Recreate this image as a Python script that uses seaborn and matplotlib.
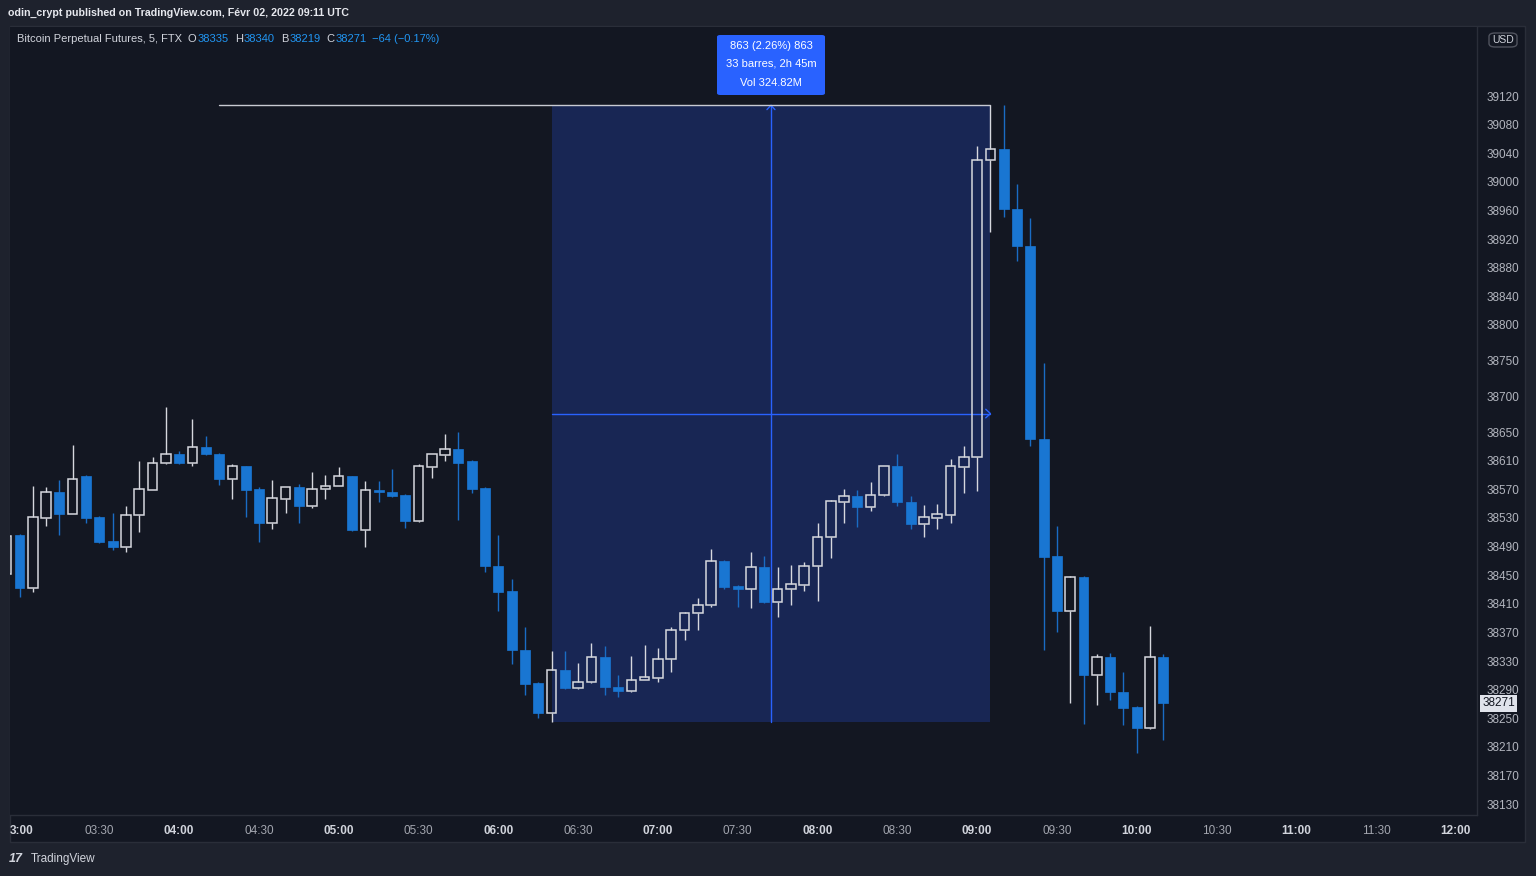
import numpy as np
import pandas as pd
import matplotlib
matplotlib.use("Agg")
import matplotlib.pyplot as plt
from matplotlib.patches import Rectangle, FancyBboxPatch
import seaborn as sns

# ---------------- data ----------------
first_bar = "2022-02-02 02:55"
opens = [38452, 38506, 38432, 38530, 38566, 38535, 38588, 38531, 38498, 38490,
         38534, 38569, 38607, 38619, 38607, 38629, 38620, 38584, 38602, 38570,
         38523, 38557, 38573, 38547, 38570, 38575, 38588, 38513, 38569, 38566,
         38562, 38526, 38601, 38618, 38626, 38610, 38572, 38463, 38428, 38346,
         38299, 38258, 38317, 38292, 38300, 38335, 38294, 38288, 38304, 38306,
         38333, 38373, 38397, 38408, 38470, 38435, 38430, 38461, 38412, 38430,
         38436, 38463, 38504, 38553, 38561, 38546, 38562, 38602, 38553, 38522,
         38530, 38534, 38601, 38615, 39031, 39046, 38962, 38910, 38641, 38477,
         38400, 38448, 38310, 38335, 38287, 38266, 38236, 38335]
highs = [38505, 38507, 38575, 38573, 38583, 38632, 38590, 38533, 38537, 38547,
         38610, 38615, 38685, 38624, 38668, 38644, 38621, 38605, 38603, 38573,
         38583, 38574, 38577, 38594, 38590, 38601, 38589, 38582, 38582, 38598,
         38563, 38605, 38620, 38647, 38650, 38611, 38573, 38506, 38445, 38378,
         38300, 38344, 38344, 38327, 38355, 38351, 38310, 38337, 38353, 38348,
         38377, 38398, 38418, 38486, 38471, 38436, 38482, 38477, 38461, 38464,
         38469, 38523, 38555, 38571, 38569, 38581, 38603, 38619, 38561, 38548,
         38550, 38613, 38631, 39050, 39107, 39107, 38997, 38950, 38746, 38519,
         38449, 38449, 38340, 38341, 38314, 38267, 38379, 38340]
lows = [38452, 38420, 38427, 38519, 38506, 38535, 38523, 38495, 38485, 38482,
        38510, 38569, 38606, 38606, 38603, 38618, 38576, 38557, 38531, 38497,
        38514, 38537, 38523, 38544, 38556, 38575, 38512, 38490, 38552, 38560,
        38516, 38525, 38586, 38610, 38527, 38565, 38455, 38400, 38326, 38283,
        38250, 38245, 38291, 38291, 38299, 38282, 38280, 38287, 38303, 38301,
        38314, 38360, 38374, 38405, 38430, 38405, 38404, 38411, 38392, 38409,
        38428, 38414, 38474, 38523, 38518, 38540, 38561, 38547, 38514, 38504,
        38514, 38523, 38565, 38568, 38930, 38951, 38890, 38631, 38345, 38370,
        38272, 38242, 38268, 38275, 38240, 38202, 38235, 38219]
closes = [38505, 38432, 38531, 38566, 38535, 38585, 38530, 38497, 38490, 38534,
          38570, 38607, 38619, 38607, 38629, 38619, 38584, 38602, 38569, 38523,
          38558, 38573, 38547, 38571, 38575, 38588, 38513, 38569, 38566, 38561,
          38526, 38602, 38619, 38626, 38607, 38571, 38463, 38427, 38345, 38298,
          38258, 38317, 38292, 38300, 38335, 38293, 38288, 38304, 38307, 38333,
          38374, 38397, 38408, 38470, 38434, 38430, 38461, 38412, 38430, 38437,
          38463, 38504, 38554, 38561, 38546, 38562, 38602, 38552, 38522, 38531,
          38535, 38602, 38615, 39031, 39046, 38962, 38910, 38641, 38476, 38400,
          38448, 38310, 38335, 38286, 38265, 38236, 38335, 38271]

time_ticks = ["03:00", "03:30", "04:00", "04:30", "05:00", "05:30", "06:00",
              "06:30", "07:00", "07:30", "08:00", "08:30", "09:00", "09:30",
              "10:00", "10:30", "11:00", "11:30", "12:00"]
price_ticks = [38130, 38170, 38210, 38250, 38290, 38330, 38370, 38410, 38450,
               38490, 38530, 38570, 38610, 38650, 38700, 38750, 38800, 38840,
               38880, 38920, 38960, 39000, 39040, 39080, 39120]
measure_start, measure_end = "06:20", "09:05"
hline_start = "04:15"
info_lines = ["863 (2.26%) 863", "33 barres, 2h 45m", "Vol 324.82M"]
last_price = 38271
legend_title = "Bitcoin Perpetual Futures, 5, FTX"
legend_fields = [("O", "38335"), ("H", "38340"), ("B", "38219"), ("C", "38271")]
legend_change = "\u221264 (\u22120.17%)"

# ---------------- colours ----------------
BG = "#131722"
FRAME = "#1e222d"
BORDER = "#2a2e39"
UP = "#d6d8de"
DOWN = "#1976d2"
DOWN_WICK = "#1a6cc4"
ACCENT = "#2962ff"
TXT = "#d1d4dc"
TICK = "#b2b5be"
VAL = "#2196f3"

sns.set_theme(style="dark")
plt.rcParams["font.family"] = ["Liberation Sans", "DejaVu Sans"]

W, H = 1536, 876
fig = plt.figure(figsize=(W / 100, H / 100), dpi=100, facecolor=FRAME)

def fx(px):
    return px / W

def fy(py):
    return 1 - py / H

# pane background
fig.add_artist(Rectangle((fx(10), fy(842)), fx(1525) - fx(10), fy(26) - fy(842),
                         transform=fig.transFigure, facecolor=BG, edgecolor=BORDER,
                         linewidth=1, zorder=0))

ax = fig.add_axes([fx(10), fy(815), fx(1477) - fx(10), fy(27) - fy(815)])
ax.set_facecolor(BG)
ax.grid(False)

df = pd.DataFrame({
    "time": pd.date_range(first_bar, periods=len(opens), freq="5min"),
    "open": opens, "high": highs, "low": lows, "close": closes,
})
t0 = pd.Timestamp("2022-02-02 03:00")
df["x"] = (df["time"] - t0) / pd.Timedelta("5min")
df["up"] = df["close"] >= df["open"]
df["top"] = df[["open", "close"]].max(axis=1)
df["bot"] = df[["open", "close"]].min(axis=1)
df["h"] = (df["top"] - df["bot"]).clip(lower=1.5)

def tx(hhmm):
    return (pd.Timestamp("2022-02-02 " + hhmm) - t0) / pd.Timedelta("5min")

# measurement rectangle
xs, xe = tx(measure_start), tx(measure_end)
sel = df[(df["x"] >= xs) & (df["x"] <= xe)]
lo, hi = sel["low"].min(), sel["high"].max()
ax.add_patch(Rectangle((xs, lo), xe - xs, hi - lo, facecolor="#182654",
                       edgecolor="none", zorder=0.5))
xm, ym = (xs + xe) / 2, (lo + hi) / 2
ax.plot([xm, xm], [lo, hi], color=ACCENT, lw=1, zorder=0.8)
ax.plot([xs, xe], [ym, ym], color=ACCENT, lw=1, zorder=0.8)
ax.plot([xe - 0.35, xe, xe - 0.35], [ym + 6, ym, ym - 6], color=ACCENT, lw=1, zorder=0.8)
ax.plot([xm - 0.3, xm, xm + 0.3], [hi - 6, hi, hi - 6], color=ACCENT, lw=1, zorder=0.8)

# horizontal line at the high
ax.plot([tx(hline_start), xe], [hi, hi], color="#c8cad2", lw=1, zorder=0.9)

# candles
up = df[df["up"]]
dn = df[~df["up"]]
ax.vlines(up["x"], up["top"], up["high"], color=UP, lw=1, zorder=2)
ax.vlines(up["x"], up["low"], up["bot"], color=UP, lw=1, zorder=2)
ax.vlines(dn["x"], dn["low"], dn["high"], color=DOWN_WICK, lw=1, zorder=2)
ax.bar(dn["x"], dn["h"], bottom=dn["bot"], width=0.75, color=DOWN,
       edgecolor=DOWN, linewidth=0.5, zorder=3)
ax.bar(up["x"], up["h"], bottom=up["bot"], width=0.72, facecolor="none",
       edgecolor=UP, linewidth=1.1, zorder=3)

# axes
x_left = (10 - 19.5) / 13.3
x_right = (1477 - 19.5) / 13.3
ax.set_xlim(x_left, x_right)
ax.set_ylim(38114.7, 39216.5)

ax.yaxis.tick_right()
ax.set_yticks(price_ticks)
ax.set_yticklabels([str(p) for p in price_ticks])
ax.tick_params(axis="y", length=0, pad=7, labelsize=8.5, colors=TICK)

xt = [tx(t) for t in time_ticks]
ax.set_xticks(xt)
labels = list(time_ticks)
labels[0] = ""
ax.set_xticklabels(labels)
ax.tick_params(axis="x", length=0, pad=7, labelsize=8.5, colors=TICK)
for lab, t in zip(ax.get_xticklabels(), time_ticks):
    if t.endswith(":00"):
        lab.set_color("#d1d4dc")
        lab.set_fontweight("bold")
    else:
        lab.set_color("#a3a6af")
# first label is clipped by the pane edge in the reference
fig.text(fx(10), fy(830.5), time_ticks[0][1:], ha="left", va="center",
         color="#d1d4dc", fontsize=8.5, fontweight="bold")

for s in ["top", "left"]:
    ax.spines[s].set_visible(False)
for s in ["right", "bottom"]:
    ax.spines[s].set_color(BORDER)
    ax.spines[s].set_linewidth(1)

# last price label
ax.text(1.0035, last_price, str(last_price), transform=ax.get_yaxis_transform(),
        ha="left", va="center", fontsize=8.5, color="#131722", zorder=10,
        bbox=dict(boxstyle="square,pad=0.22", facecolor="#e0e3eb", edgecolor="none"),
        clip_on=False)

# info box of the measurement tool
fig.add_artist(FancyBboxPatch((fx(717), fy(95)), fx(825) - fx(717), fy(35) - fy(95),
                              boxstyle="round,pad=0,rounding_size=0.002",
                              transform=fig.transFigure, facecolor=ACCENT,
                              edgecolor="none", zorder=5))
for line, py in zip(info_lines, [46, 64, 83]):
    fig.text(fx(771), fy(py), line, ha="center", va="center", color="white",
             fontsize=8, zorder=6)

# header
fig.text(fx(8), fy(13), "odin_crypt published on TradingView.com, Févr 02, 2022 09:11 UTC",
         ha="left", va="center", color="#e6e8ee", fontsize=7.7, fontweight="bold")

# legend line, placed piece by piece
renderer = fig.canvas.get_renderer()
cur = 17
def put(s, color, gap):
    global cur
    t = fig.text(fx(cur), fy(39), s, ha="left", va="center", color=color, fontsize=8)
    w = t.get_window_extent(renderer=renderer).width
    cur = cur + w + gap
    return t

put(legend_title, TXT, 6)
for lab, val in legend_fields:
    put(lab, TXT, 1)
    put(val, VAL, 6)
put(legend_change, VAL, 0)

# USD button
fig.add_artist(FancyBboxPatch((fx(1489), fy(47)), fx(1517) - fx(1489), fy(33) - fy(47),
                              boxstyle="round,pad=0,rounding_size=0.004",
                              transform=fig.transFigure, facecolor="none",
                              edgecolor="#50535e", linewidth=1, zorder=5))
fig.text(fx(1503), fy(40), "USD", ha="center", va="center", color=TXT, fontsize=7.5)

# footer
fig.text(fx(9), fy(859), "17", ha="left", va="center", color="#d1d4dc",
         fontsize=9, fontweight="bold", style="italic")
fig.text(fx(31), fy(859), "TradingView", ha="left", va="center", color="#d1d4dc",
         fontsize=8.5)

fig.savefig("out.png", dpi=100, facecolor=FRAME)
